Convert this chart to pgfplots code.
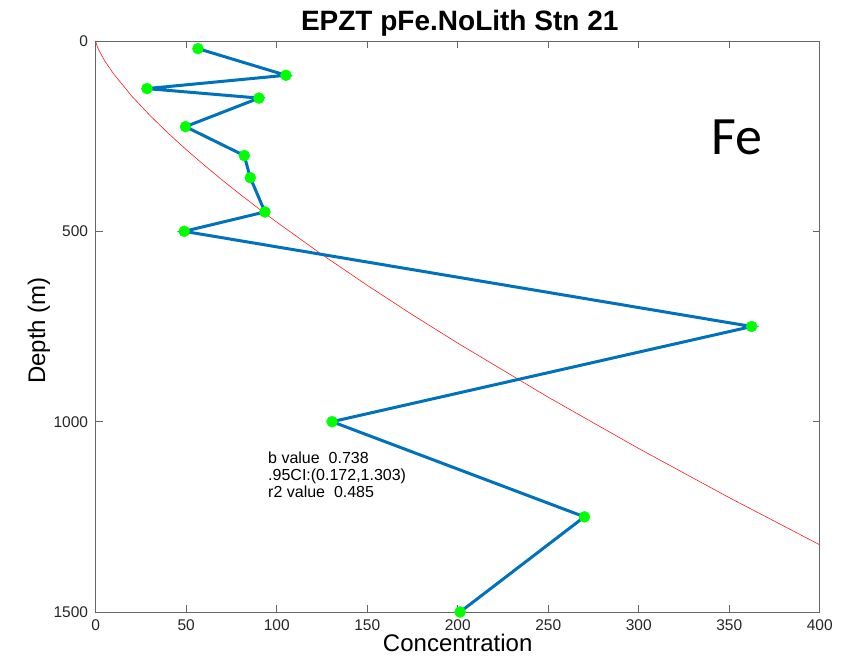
\documentclass[border=0pt]{standalone}
\usepackage{fontspec}
\setmainfont{Liberation Sans}
\newfontfamily\calib{Carlito}
\usepackage{pgfplots}
\pgfplotsset{compat=1.18}
\definecolor{mblue}{rgb}{0,0.447,0.741}
\definecolor{mgreen}{rgb}{0,1,0}
\definecolor{axgray}{rgb}{0.4,0.4,0.4}
\begin{document}
\begin{tikzpicture}
\useasboundingbox (-95.7pt,-50pt) rectangle (752.3pt,612pt);
\begin{axis}[
  at={(0pt,0pt)}, anchor=south west, scale only axis,
  width=724pt, height=571pt,
  xmin=0, xmax=400, ymin=0, ymax=1500, y dir=reverse,
  xtick={0,50,...,400}, ytick={0,500,1000,1500},
  tick align=inside, major tick length=7pt,
  axis line style={axgray, line width=0.8pt},
  tick style={axgray, line width=0.8pt},
  /pgf/number format/assume math mode=true,
  /pgf/number format/1000 sep={},
  ticklabel style={font=\fontsize{15.5}{15.5}\selectfont, text=black!85},
  xticklabel style={anchor=north, inner sep=0pt, yshift=-7pt},
  yticklabel style={anchor=east, inner sep=0pt, xshift=-7.5pt},
  xlabel={Concentration}, ylabel={Depth (m)},
  label style={font=\fontsize{24}{24}\selectfont},
  ylabel style={xshift=-4pt},
  clip=false,
]
\addplot[red!90!white, line width=0.6pt] coordinates {
(0,0) (0.5,9.5) (1,15.9) (2,26.5) (5,52.2) (10,87) (20,145.1) (30,195.7)
(40,242) (50,285.3) (60,326.3) (70,365.7) (80,403.5) (90,440.1) (100,475.7)
(125,561) (150,641.7) (175,719.2) (200,793.6) (250,935.7) (300,1070.5)
(350,1199.5) (400,1323.4)};
\addplot[mblue, line width=3pt] coordinates {
(56.5,20) (105.1,90) (28.3,125) (90.2,150) (49.6,225) (82.1,301)
(85.4,359) (93.5,449) (48.9,500) (362.4,750) (130.6,1000) (270,1250) (201.3,1500)};
\addplot[only marks, mark=*, mark size=5.5pt, mark options={fill=mgreen, draw=mgreen}] coordinates {
(56.5,20) (105.1,90) (28.3,125) (90.2,150) (49.6,225) (82.1,301)
(85.4,359) (93.5,449) (48.9,500) (362.4,750) (130.6,1000) (270,1250) (201.3,1500)};
\node[anchor=west, align=left, inner sep=0pt, font=\fontsize{16}{17}\selectfont] at (axis cs:95.2,1140) {b value\ \ 0.738\\.95CI:(0.172,1.303)\\r2 value\ \ 0.485};
\node[font=\calib\fontsize{54}{54}\selectfont] at (axis cs:354.5,252) {Fe};
\end{axis}
\node[anchor=base, inner sep=0pt, font=\fontsize{28}{28}\selectfont\bfseries] at (364pt,581pt) {EPZT pFe.NoLith Stn 21};
\end{tikzpicture}
\end{document}
